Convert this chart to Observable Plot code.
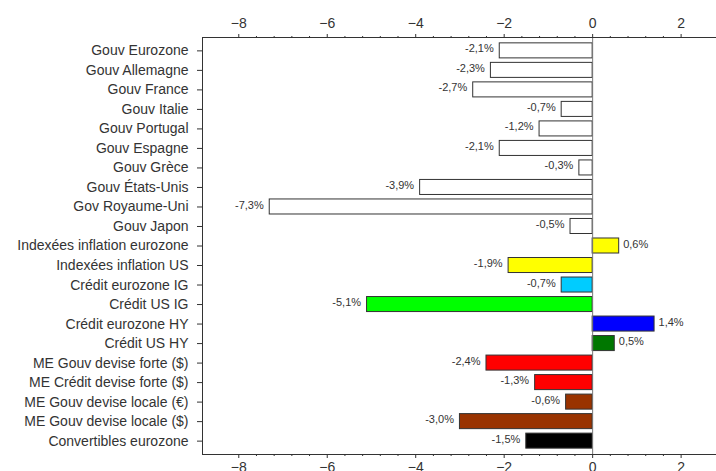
<!DOCTYPE html>
<html>
<head>
<meta charset="utf-8">
<script src="https://cdn.jsdelivr.net/npm/d3@7"></script>
<script src="https://cdn.jsdelivr.net/npm/@observablehq/plot@0.6"></script>
<style>
  html, body { margin: 0; padding: 0; background: #fff; }
  #chart svg { display: block; }
</style>
</head>
<body>
<div id="chart"></div>
<script>
const categories = [
  "Gouv Eurozone", "Gouv Allemagne", "Gouv France", "Gouv Italie", "Gouv Portugal",
  "Gouv Espagne", "Gouv Grèce", "Gouv États-Unis", "Gov Royaume-Uni", "Gouv Japon",
  "Indexées inflation eurozone", "Indexées inflation US", "Crédit eurozone IG", "Crédit US IG",
  "Crédit eurozone HY", "Crédit US HY", "ME Gouv devise forte ($)", "ME Crédit devise forte ($)",
  "ME Gouv devise locale (€)", "ME Gouv devise locale ($)", "Convertibles eurozone"
];
const values = [-2.1, -2.3, -2.7, -0.7, -1.2, -2.1, -0.3, -3.9, -7.3, -0.5,
                0.6, -1.9, -0.7, -5.1, 1.4, 0.5, -2.4, -1.3, -0.6, -3.0, -1.5];
const colors = ["#ffffff", "#ffffff", "#ffffff", "#ffffff", "#ffffff",
                "#ffffff", "#ffffff", "#ffffff", "#ffffff", "#ffffff",
                "#ffff00", "#ffff00", "#00ccff", "#00ff00", "#0000ff", "#007700",
                "#ff0000", "#ff0000", "#993300", "#993300", "#000000"];
const majorTicks = [-8, -6, -4, -2, 0, 2];
const minorTicks = d3.range(-8, 2.001, 0.4).map(v => +v.toFixed(1)).filter(v => !majorTicks.includes(v));

const data = categories.map((c, i) => ({cat: c, v: values[i], color: colors[i]}));
const fmt = v => v.toFixed(1).replace(".", ",") + "%";

const chart = Plot.plot({
  width: 716,
  height: 471,
  marginLeft: 202,
  marginRight: 0,
  marginTop: 37,
  marginBottom: 17,
  style: {fontFamily: "'Liberation Sans', Arial, sans-serif", color: "#333", background: "#fff"},
  x: {domain: [-8.82, 2.8], range: [202, 716]},
  y: {domain: categories, paddingInner: 0.23, paddingOuter: 0.3, round: false},
  marks: [
    Plot.barX(data, {x: "v", y: "cat", fill: "color", stroke: "#333", strokeWidth: 1}),
    Plot.ruleX([0], {stroke: "#777", strokeWidth: 1}),
    Plot.text(data.filter(d => d.v < 0), {x: "v", y: "cat", text: d => fmt(d.v), textAnchor: "end", dx: -6, dy: -2, fontSize: 11, fill: "#333"}),
    Plot.text(data.filter(d => d.v >= 0), {x: "v", y: "cat", text: d => fmt(d.v), textAnchor: "start", dx: 4, dy: -2, fontSize: 11, fill: "#333"}),
    Plot.frame({anchor: "top", stroke: "#333"}),
    Plot.frame({anchor: "bottom", stroke: "#333"}),
    Plot.frame({anchor: "left", stroke: "#333"}),
    Plot.axisX({anchor: "top", ticks: majorTicks, tickSize: 4, tickPadding: 6, fontSize: 14, label: null, stroke: "#333", fill: "#333"}),
    Plot.axisX({anchor: "top", ticks: minorTicks, tickSize: 2, tickFormat: () => "", label: null, stroke: "#333"}),
    Plot.axisX({anchor: "bottom", ticks: majorTicks, tickSize: 4, tickPadding: 4, fontSize: 14, label: null, stroke: "#333", fill: "#333"}),
    Plot.axisX({anchor: "bottom", ticks: minorTicks, tickSize: 2, tickFormat: () => "", label: null, stroke: "#333"}),
    Plot.axisY({anchor: "left", tickSize: 5, tickPadding: 9, fontSize: 14, label: null, stroke: "#333", fill: "#333"})
  ]
});
document.getElementById("chart").appendChild(chart);
</script>
</body>
</html>
